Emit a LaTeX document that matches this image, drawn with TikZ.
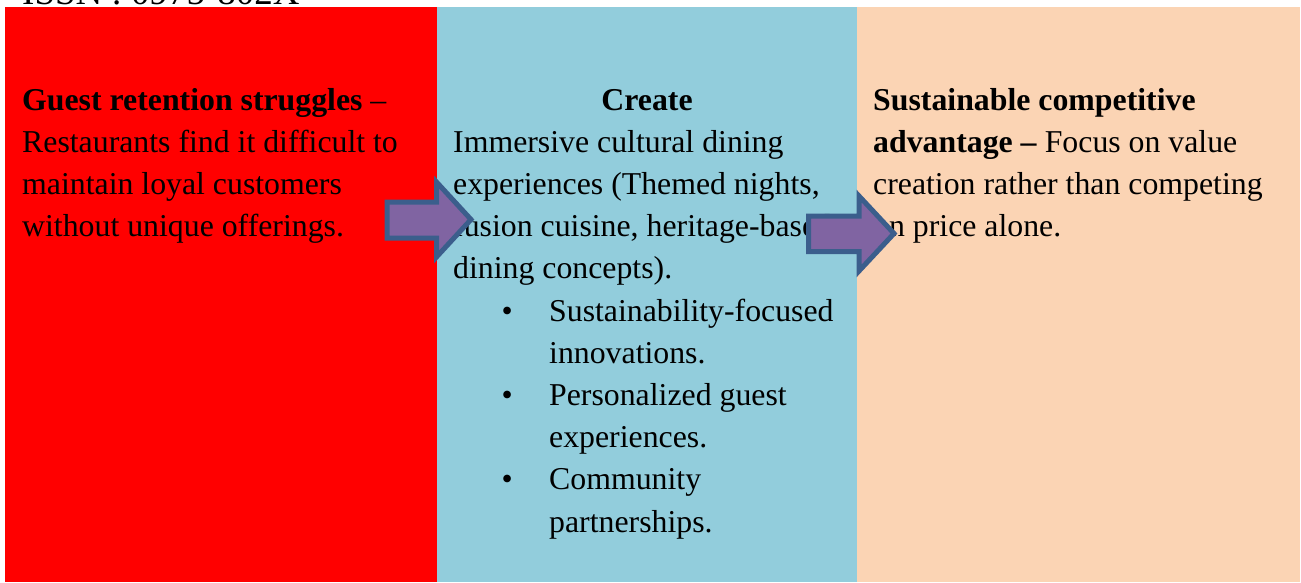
\documentclass[tikz,border=0pt]{standalone}
\usepackage{fontspec}
\setmainfont{Liberation Serif}
\definecolor{colred}{HTML}{FF0000}
\definecolor{colblue}{HTML}{92CDDC}
\definecolor{colpeach}{HTML}{FBD4B4}
\definecolor{arrfill}{HTML}{8064A2}
\definecolor{arrline}{HTML}{3B5E8C}
\begin{document}
\begin{tikzpicture}[x=1pt,y=-1pt,
  txt/.style={font=\fontsize{31.8}{42.2}\selectfont, inner sep=0pt, align=left, anchor=base west},
  blockarrow/.style={fill=arrfill, draw=arrline, line width=5pt, line join=miter}]
\useasboundingbox (0,0) rectangle (1301,582);
\clip (0,0) rectangle (1301,582);
\node[txt, font=\fontsize{37}{42}\selectfont] (issn) at (22,4.5) {ISSN : 0975-802X};
\fill[colred] (5,7) rectangle (437,582);
\fill[colblue] (437,7) rectangle (857,582);
\fill[colpeach] (857,7) rectangle (1300,582);
% base anchor of a multi-line node = baseline of its last line
\node[txt] (left) at (22,236.6) {\textbf{Guest retention struggles} –\\Restaurants find it difficult to\\maintain loyal customers\\without unique offerings.};
\node[txt, anchor=base] (create) at (647,110) {\textbf{Create}};
\node[txt] (mid) at (453,278.8) {Immersive cultural dining\\experiences (Themed nights,\\fusion cuisine, heritage-based\\dining concepts).};
\node[txt] (bullets) at (501.5,532) {\makebox[47.5pt][l]{•}Sustainability-focused\\\hspace*{47.5pt}innovations.\\\makebox[47.5pt][l]{•}Personalized guest\\\hspace*{47.5pt}experiences.\\\makebox[47.5pt][l]{•}Community\\\hspace*{47.5pt}partnerships.};
\node[txt] (right) at (873,236.6) {\textbf{Sustainable competitive}\\\textbf{advantage –} Focus on value\\creation rather than competing\\on price alone.};
\draw[blockarrow] (387,202) -- (436.5,202) -- (436.5,182) -- (471,219.5) -- (436.5,257) -- (436.5,238) -- (387,238) -- cycle;
\draw[blockarrow] (808.5,216) -- (859,216) -- (859,196) -- (894,233.5) -- (859,271) -- (859,251.5) -- (808.5,251.5) -- cycle;
\end{tikzpicture}
\end{document}
